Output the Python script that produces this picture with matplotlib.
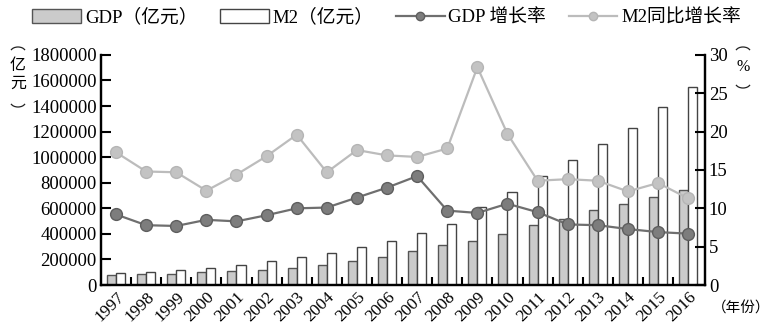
import matplotlib.pyplot as plt
import numpy as np
from matplotlib.patches import Patch, Arc
from matplotlib.lines import Line2D
from matplotlib.ticker import FuncFormatter
from matplotlib.transforms import IdentityTransform

SERIF = ["Liberation Serif", "DejaVu Serif", "Noto Sans CJK SC"]
plt.rcParams['font.family'] = SERIF

years = [str(y) for y in range(1997, 2017)]
gdp = [78973, 84402, 89677, 99215, 109655, 120333, 135823, 159878, 184937, 216314,
       265810, 314045, 340903, 401513, 473104, 519470, 588019, 636139, 685506, 744127]
m2 = [90995, 104499, 119898, 134610, 158302, 185007, 221223, 254107, 298756, 345578,
      403442, 475167, 610225, 725852, 851591, 974149, 1106525, 1228375, 1392278, 1550067]
gdp_growth = [9.2, 7.8, 7.7, 8.5, 8.3, 9.1, 10.0, 10.1, 11.4, 12.7,
              14.2, 9.7, 9.4, 10.6, 9.5, 7.9, 7.8, 7.3, 6.9, 6.7]
m2_growth = [17.3, 14.8, 14.7, 12.3, 14.4, 16.8, 19.6, 14.7, 17.6, 16.9,
             16.7, 17.8, 28.4, 19.7, 13.6, 13.8, 13.6, 12.2, 13.3, 11.3]

GDP_BAR = "#cbcbcb"
GDP_LINE = "#6f6f6f"
GDP_MK = "#7d7d7d"
M2_LINE = "#bcbcbc"
M2_MK = "#c3c3c3"

W, H = 771, 325
fig = plt.figure(figsize=(W / 100, H / 100), dpi=100)
ax = fig.add_axes([0.131, 0.123, 0.783, 0.708])
x = np.arange(len(years))
w = 0.3

ax.bar(x - w / 2, gdp, w, color=GDP_BAR, edgecolor="#555555", linewidth=1.0, zorder=2)
ax.bar(x + w / 2, m2, w, color="white", edgecolor="#444444", linewidth=1.0, zorder=2)
ax.set_ylim(0, 1800000)
ax.set_xlim(-0.5, 19.55)
ax.set_yticks(np.arange(0, 1800001, 200000))
ax.yaxis.set_major_formatter(FuncFormatter(lambda v, p: f"{int(v)}"))
ax.set_xticks(x)
ax.set_xticklabels(years, rotation=45, ha="right", rotation_mode="anchor", fontsize=12.5)
ax.set_xticks(np.arange(0.5, 19, 1), minor=True)
ax.tick_params(axis="x", which="major", length=0, pad=3)
ax.tick_params(axis="x", which="minor", direction="in", length=6, width=1.5)
ax.tick_params(axis="y", direction="in", length=7, width=1.5, labelsize=13.5, pad=3)

ax2 = ax.twinx()
ax2.plot(x, gdp_growth, color=GDP_LINE, lw=1.6, marker="o", ms=8.5,
         mfc=GDP_MK, mec="#5e5e5e", mew=1.0, zorder=3)
ax2.plot(x, m2_growth, color=M2_LINE, lw=1.6, marker="o", ms=8.5,
         mfc=M2_MK, mec="#b5b5b5", mew=1.0, zorder=3)
ax2.set_ylim(0, 30)
ax2.set_yticks(np.arange(0, 31, 5))
ax2.tick_params(axis="y", direction="in", length=7, width=1.5, labelsize=13.5, pad=3)

for a in (ax, ax2):
    a.spines["top"].set_visible(False)
    for s in ("left", "right", "bottom"):
        a.spines[s].set_linewidth(1.6)


# vertical unit labels with arc-shaped brackets (pixel coords from top-left)
def vlabel(xc, y_open, chars, y_chars, y_close):
    kw = dict(transform=IdentityTransform(), color="#222222", lw=0.9)
    fig.add_artist(Arc((xc, H - y_open - 4), 15, 10, theta1=15, theta2=165, **kw))
    fig.add_artist(Arc((xc, H - y_close + 4), 15, 10, theta1=195, theta2=345, **kw))
    for c, yy in zip(chars, y_chars):
        fig.text(xc / W, 1 - yy / H, c, ha="center", va="center", fontsize=11.5)


vlabel(18, 48, ["亿", "元"], [66, 84], 106)
vlabel(743, 48, ["%"], [67], 87)
fig.text(0.923, 0.052, "（年份）", ha="left", va="center", fontsize=10.5)

handles = [
    Patch(facecolor=GDP_BAR, edgecolor="#555555", linewidth=1.0),
    Patch(facecolor="white", edgecolor="#444444", linewidth=1.0),
    Line2D([], [], color=GDP_LINE, lw=1.6, marker="o", ms=6, mfc=GDP_MK, mec="#5e5e5e"),
    Line2D([], [], color=M2_LINE, lw=1.6, marker="o", ms=6, mfc=M2_MK, mec="#b5b5b5"),
]
labels = ["GDP（亿元）", "M2（亿元）", "GDP 增长率", "M2同比增长率"]
fig.legend(handles, labels, loc="upper left", bbox_to_anchor=(0.02, 1.025), ncol=4,
           frameon=False, handlelength=2.6, handletextpad=0.2,
           columnspacing=1.2, prop={"size": 13.5})

fig.savefig("out.png", dpi=100)
